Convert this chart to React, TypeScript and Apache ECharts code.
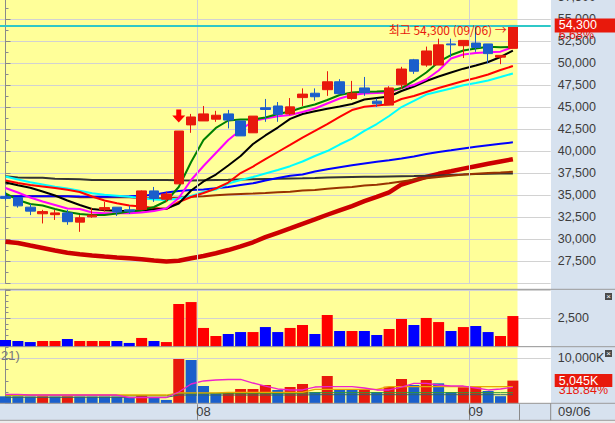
import { useEffect, useRef } from 'react';
import * as echarts from 'echarts';

// ---------- data ----------
const dates = ['07/10','07/11','07/12','07/13','07/14','07/17','07/18','07/19','07/20','07/21','07/24','07/25','07/26','07/27','07/28','07/31',
  '08/01','08/02','08/03','08/04','08/07','08/08','08/09','08/10','08/11','08/14','08/16','08/17','08/18','08/21','08/22','08/23','08/24','08/25','08/28','08/29','08/30','08/31',
  '09/01','09/04','09/05','09/06'];

const open = [34850,34750,33650,32900,32800,33000,31950,32550,33350,33650,33350,33400,35500,34550,36300,43000,43450,43650,44250,43450,42100,44950,45150,44250,46100,46600,47000,47900,46000,47200,45700,45250,47550,50400,49800,49800,52200,52000,52300,52200,50700,51700];
const close = [34650,33800,33200,33150,33000,32000,32450,32750,33600,33100,33200,35500,34650,35150,42300,43900,44250,44100,43550,41750,44000,44750,44200,45050,46500,46200,47900,46550,46600,46650,45400,47200,49350,49100,51400,52100,52100,52600,51800,51100,50900,54300];
const low = [34400,33600,32750,31800,32200,31650,30850,32450,33150,32650,32900,33350,34250,34250,36300,42100,43450,43350,42600,41750,42100,43350,43350,44100,45150,45750,46300,46450,45850,46300,45050,45250,47100,48800,49600,49800,50700,50600,51300,50000,49900,51700];
const high = [35400,34750,34000,33350,33350,33350,32750,33550,34250,33650,33800,35550,35950,35400,42300,44250,45150,44600,44700,43450,44000,45950,45600,46050,47150,47150,49100,48200,48000,48450,46000,47400,49600,50500,51900,52800,52800,52600,54100,52200,50900,54300];

const maGreen = [35230,34470,34010,33840,33440,33100,32870,32760,32760,32930,33160,33330,33670,34350,35940,38780,41280,42650,43500,43610,43610,43840,44240,44520,44980,45320,45830,46400,46680,46770,46800,46850,47190,47990,48950,50150,50940,51450,51680,51890,51820,51850];
const maMagenta = [35830,35320,34750,34300,33900,33500,33440,33050,32950,32950,32950,33050,33220,33500,34690,36740,38330,39810,41280,42420,43440,43730,43980,44130,44470,44860,45430,46000,46400,46570,46630,46680,47190,47530,48160,49180,50550,51000,51170,51250,51320,51850];
const maBlack = [36450,36140,35850,35430,34980,34410,33900,33440,33300,33240,33220,33270,33390,33500,34070,35550,36570,37360,38390,39470,40830,41800,42700,43690,44240,44550,44830,45100,45380,45890,46060,46230,46850,47360,47990,48500,48950,49390,49750,50150,50720,51450];
const maRed = [36680,36400,36170,36000,35830,35640,35380,34860,34410,34090,33840,33730,33560,33440,34240,34810,35260,35770,36450,37530,38270,39120,39920,40720,41550,42310,43100,43900,44690,45070,45200,45340,45940,46280,46740,47190,47590,47990,48330,48730,49240,49690];
const maCyan = [37140,36790,36490,36230,35970,35770,35510,35240,35060,34950,34840,34690,34520,34470,34640,34920,35370,35660,36340,36740,37080,37480,37880,38310,38840,39470,40030,40770,41450,42310,43100,44010,45030,45720,46450,46800,47140,47500,47760,48050,48440,48840];
const maBlue = [34890,34890,34890,34890,34900,34890,34860,34840,34840,34850,34890,34950,35060,35320,35490,35600,35660,35810,35940,36170,36360,36680,36970,37220,37360,37700,37970,38190,38410,38610,38810,38980,39170,39410,39690,39920,40110,40310,40510,40680,40850,41020];
const maCharcoal = [37160,37020,37000,37000,36870,36850,36820,36740,36740,36740,36740,36740,36740,36740,36700,36680,36720,36740,36760,36800,36830,36850,36870,36900,36930,36970,37020,37060,37080,37100,37120,37150,37170,37190,37220,37250,37310,37360,37420,37440,37470,37490];
const maBrown = [34890,34890,34890,34890,34890,34890,34770,34770,34770,34770,34770,34660,34670,34690,34750,34830,34900,35000,35090,35150,35200,35260,35340,35410,35550,35600,35740,35850,35940,36110,36200,36360,36570,36760,36940,37080,37220,37360,37450,37530,37590,37670];
const maLong = [29730,29580,29290,29010,28730,28480,28290,28160,28040,27930,27840,27740,27590,27480,27570,27840,28100,28410,28780,29190,29660,30240,30740,31230,31760,32260,32790,33290,33780,34330,34820,35320,36230,36660,37090,37440,37730,38030,38310,38580,38850,39100];

const volume = [590,500,410,500,500,680,500,500,500,500,330,770,500,410,3760,3930,1650,940,1120,1290,1290,1730,1290,1650,1910,1120,2790,1380,1380,1380,1030,1560,2440,1910,2530,2170,1380,1730,1820,1290,940,2700];

const volumeK = [1550,1550,1500,1550,1500,1550,1500,1500,1500,1500,1400,1850,1300,750,9840,9620,3840,2220,2440,3180,3180,4070,2960,3620,4290,2510,6070,2960,2960,3180,2510,3690,5400,4070,5180,4440,2510,3560,3560,2730,1582,5045];
const volumeKUp = [0,0,0,1,0,1,0,0,0,0,0,1,0,0,1,0,0,0,1,1,1,1,0,1,1,0,1,0,0,1,0,1,1,0,1,0,0,1,1,0,0,1];
const vmaMagenta = [2000,2000,1840,1840,1840,1840,1840,1840,1840,1840,1290,1290,1290,1290,2510,4290,4960,5180,5290,5330,4510,3840,3180,2960,2960,3620,3690,3690,3690,3400,2960,2960,3620,4440,4440,4070,3840,3840,3400,2960,3180,3560];
const vmaGold = [1840,1840,1840,1840,1840,1840,1840,1840,1840,1840,1840,1840,1840,1840,2330,2330,2330,2330,2440,2440,2440,2440,2440,2440,2440,3110,3110,3110,3110,3110,3110,3690,3690,3690,3690,3690,3690,3690,3690,3690,3690,3690];
const vmaGreen = [1690,1690,1690,1690,1690,1690,1690,1690,1690,1690,1690,1690,1690,1690,2220,2220,2220,2220,2220,2220,2220,2220,2220,2220,2220,2360,2360,2360,2360,2360,2360,2360,2360,2360,2360,2360,2360,2360,2360,2360,2360,2360];
const vmaDark = [1330,1330,1330,1330,1330,1330,1330,1330,1330,1330,1330,1330,1330,1330,1840,1840,1840,1840,1840,1840,1840,1840,1840,1840,1840,1910,1910,1910,1910,1910,1910,1910,1910,1910,1910,1910,1910,1910,1910,1910,1910,1910];

const signal = { index: 14, price: 44000 };
const lastInfo = { price: 54300, change: '6.68%', date: '09/06', volK: 5045, volRatio: '318.84%' };

// ---------- style ----------
const RED = '#E8190C';
const BLUE = '#1B5ECB';
const YELLOW = '#FFFF99';
const PANEL = '#D7E2EF';
const GRID = '#D2D2D2';
const FRAME = '#9A9A9A';
const AXIS_TEXT = '#3C3C3C';
const NARROW = "'Liberation Sans Narrow', 'Liberation Sans', Arial, sans-serif";
const AXIS_FS = 12.5;

const STEP = 12.375;   // px per trading day
const FIRST = 5.5;     // centre of first candle
const PLOT_W = 550.7;  // right axis position
const xMin = -FIRST / STEP;
const xMax = (PLOT_W - FIRST) / STEP;

const fmt = (v: number) => v.toLocaleString('en-US');

export default function App() {
  const ref = useRef<HTMLDivElement>(null);
  useEffect(() => {
    if (!ref.current) return;
    const chart = echarts.init(ref.current, null, { renderer: 'svg' });
    const monthStarts = dates.map((d, i) => (i > 0 && d.slice(0, 2) !== dates[i - 1].slice(0, 2) ? i : -1)).filter((i) => i > 0);
    const monthLines = monthStarts.map((i) => ({ xAxis: i - 0.5, lineStyle: { color: GRID, width: 1, type: 'solid' }, label: { show: false } }));
    const idx = (arr: number[]) => arr.map((v, i) => [i, v]);
    const line = (arr: number[], color: string, width: number, xi = 0) => ({
      type: 'line', xAxisIndex: xi, yAxisIndex: xi, data: idx(arr), symbol: 'none', silent: true,
      lineStyle: { color, width }, z: 2,
    });
    const valueX = (gi: number) => ({ type: 'value', gridIndex: gi, min: xMin, max: xMax, show: false });
    const yBase = {
      position: 'right',
      z: 0,
      axisLine: { show: true, lineStyle: { color: '#8A8A8A' } },
      axisTick: { show: true, length: 5, lineStyle: { color: '#8A8A8A' } },
      splitLine: { show: true, lineStyle: { color: GRID, width: 1 } },
      axisLabel: { color: AXIS_TEXT, fontSize: AXIS_FS, fontFamily: NARROW, margin: 7 },
    };
    const gridBase = { outerBoundsMode: 'none', containLabel: false };
    const sideLabel = { show: true, position: 'end', distance: 4, fontSize: AXIS_FS, fontFamily: NARROW };

    chart.setOption({
      animation: false,
      graphic: {
        elements: [
          { type: 'rect', z: -10, silent: true, shape: { x: 0, y: 0, width: 517.5, height: 403.3 }, style: { fill: YELLOW } },
          { type: 'rect', z: -10, silent: true, shape: { x: 551, y: 0, width: 64, height: 403.3 }, style: { fill: PANEL } },
          { type: 'rect', z: -10, silent: true, shape: { x: 0, y: 403.3, width: 615, height: 17 }, style: { fill: PANEL } },
          { type: 'rect', z: -10, silent: true, shape: { x: 0, y: 420.3, width: 615, height: 3 }, style: { fill: '#EDEDED' } },
          { type: 'line', z: 10, silent: true, shape: { x1: 0, y1: 289.3, x2: 615, y2: 289.3 }, style: { stroke: FRAME, lineWidth: 1 } },
          { type: 'line', z: 10, silent: true, shape: { x1: 0, y1: 346.7, x2: 615, y2: 346.7 }, style: { stroke: FRAME, lineWidth: 1 } },
          { type: 'line', z: 10, silent: true, shape: { x1: 0, y1: 403.3, x2: 615, y2: 403.3 }, style: { stroke: FRAME, lineWidth: 1 } },
          { type: 'line', z: 10, silent: true, shape: { x1: 0, y1: 420.3, x2: 615, y2: 420.3 }, style: { stroke: FRAME, lineWidth: 1 } },
          { type: 'line', z: 10, silent: true, shape: { x1: 550.7, y1: 403.3, x2: 550.7, y2: 420.3 }, style: { stroke: '#8A8A8A', lineWidth: 1 } },
          { type: 'rect', z: 10, silent: true, shape: { x: 605, y: 293, width: 7, height: 7 }, style: { fill: '#4A4A4A' } },
          { type: 'text', z: 11, silent: true, style: { x: 608.5, y: 296.5, text: '×', fill: '#fff', fontSize: 8, align: 'center', verticalAlign: 'middle' } },
          { type: 'rect', z: 10, silent: true, shape: { x: 605, y: 350, width: 7, height: 7 }, style: { fill: '#4A4A4A' } },
          { type: 'text', z: 11, silent: true, style: { x: 608.5, y: 353.5, text: '×', fill: '#fff', fontSize: 8, align: 'center', verticalAlign: 'middle' } },
          { type: 'text', z: 10, silent: true, style: { x: 1, y: 355, text: '21)', fill: '#777', fontSize: 13, fontFamily: NARROW, verticalAlign: 'middle' } },
          { type: 'text', z: 10, silent: true, style: { x: 558, y: 411.5, text: lastInfo.date, fill: AXIS_TEXT, fontSize: AXIS_FS + 0.5, fontFamily: NARROW, verticalAlign: 'middle' } },
        ],
      },
      grid: [
        { ...gridBase, left: 0, top: -2.7, width: PLOT_W, height: 286 },
        { ...gridBase, left: 0, top: 289.3, width: PLOT_W, height: 57.4 },
        { ...gridBase, left: 0, top: 346.7, width: PLOT_W, height: 56.6 },
        { ...gridBase, left: FIRST - STEP / 2, top: 403.3, width: STEP * dates.length, height: 1 },
      ],
      xAxis: [
        valueX(0), valueX(1), valueX(2),
        {
          type: 'category', gridIndex: 3, data: dates, boundaryGap: true, position: 'bottom',
          axisLine: { show: false },
          axisTick: { show: true, length: 16, interval: (i: number) => monthStarts.includes(i), lineStyle: { color: '#8A8A8A' } },
          axisLabel: { interval: (i: number) => monthStarts.includes(i), formatter: (v: string) => v.slice(0, 2), color: AXIS_TEXT, fontSize: AXIS_FS + 0.5, fontFamily: NARROW, margin: 1 },
          splitLine: { show: false },
        },
      ],
      yAxis: [
        { ...yBase, type: 'value', gridIndex: 0, min: 25000, max: 57500, interval: 2500,
          minorTick: { show: true, splitNumber: 2, length: 3, lineStyle: { color: '#8A8A8A' } },
          axisLabel: { ...yBase.axisLabel, formatter: (v: number) => fmt(v), showMinLabel: false } },
        { ...yBase, type: 'value', gridIndex: 1, min: 0, max: 5053, interval: 2500,
          minorTick: { show: true, splitNumber: 5, length: 3, lineStyle: { color: '#8A8A8A' } },
          axisLabel: { ...yBase.axisLabel, formatter: (v: number) => (v === 2500 ? fmt(v) : '') } },
        { ...yBase, type: 'value', gridIndex: 2, min: 0, max: 12578, interval: 10000,
          minorTick: { show: true, splitNumber: 4, length: 3, lineStyle: { color: '#8A8A8A' } },
          axisLabel: { ...yBase.axisLabel, formatter: (v: number) => (v === 10000 ? fmt(v) + 'K' : '') } },
        { type: 'value', gridIndex: 3, show: false },
      ],
      series: [
        line(maLong, '#CC0000', 4.5),
        line(maCharcoal, '#333333', 2),
        line(maBrown, '#993300', 2),
        line(maBlue, '#0000FF', 2),
        line(maCyan, '#00FFFF', 2),
        line(maRed, '#FF0000', 2),
        line(maBlack, '#000000', 2),
        line(maMagenta, '#FF00FF', 2),
        line(maGreen, '#008000', 2),
        {
          type: 'candlestick', xAxisIndex: 0, yAxisIndex: 0, z: 5, barWidth: 10,
          data: dates.map((_, i) => [i, open[i], close[i], low[i], high[i]]),
          itemStyle: { color: RED, color0: BLUE, borderColor: RED, borderColor0: BLUE, borderWidth: 1 },
          markLine: {
            silent: true, symbol: ['none', 'none'], z: 20,
            data: [
              ...monthLines,
              { yAxis: lastInfo.price, lineStyle: { color: '#2FC8C8', width: 2, type: 'solid' },
                label: { ...sideLabel, formatter: fmt(lastInfo.price), color: '#fff', backgroundColor: RED, lineHeight: 13, padding: [1, 22, 0, 4] } },
              { yAxis: lastInfo.price, lineStyle: { color: 'transparent', width: 0 },
                label: { ...sideLabel, formatter: '\n' + lastInfo.change, color: RED, lineHeight: 19, padding: [0, 0, 0, 4] } },
            ],
          },
          markPoint: {
            silent: true, z: 20,
            data: [
              { coord: [signal.index, signal.price], symbol: 'path://M4,0 L9,0 L9,6 L13,6 L6.5,13 L0,6 L4,6 Z', symbolSize: [13, 13],
                itemStyle: { color: '#FF0000' }, label: { show: false } },
              { coord: [dates.length - 1, lastInfo.price], symbol: 'circle', symbolSize: 0,
                label: { show: true, position: 'left', distance: 6, offset: [0, 4], formatter: `최고 ${fmt(lastInfo.price)} (${lastInfo.date}) →`,
                  color: RED, fontSize: 12, fontFamily: "'Noto Sans CJK KR', sans-serif" } },
            ],
          },
        },
        {
          type: 'bar', xAxisIndex: 1, yAxisIndex: 1, barWidth: 11, z: 3,
          data: volume.map((v, i) => ({ value: [i, v], itemStyle: { color: close[i] >= open[i] ? '#FF0000' : '#0000FF' } })),
          markLine: { silent: true, symbol: ['none', 'none'], data: monthLines },
        },
        {
          type: 'bar', xAxisIndex: 2, yAxisIndex: 2, barWidth: 11, z: 2,
          data: volumeK.map((v, i) => ({ value: [i, v], itemStyle: { color: volumeKUp[i] ? RED : '#1A5FCC' } })),
          markLine: {
            silent: true, symbol: ['none', 'none'], z: 20,
            data: [
              ...monthLines,
              { yAxis: lastInfo.volK, lineStyle: { color: 'transparent', width: 0 },
                label: { ...sideLabel, formatter: fmt(lastInfo.volK) + 'K', color: '#fff', backgroundColor: RED, lineHeight: 13, padding: [0, 14, 0, 4] } },
              { yAxis: lastInfo.volK, lineStyle: { color: 'transparent', width: 0 },
                label: { ...sideLabel, formatter: '\n' + lastInfo.volRatio, color: RED, lineHeight: 19, padding: [0, 0, 0, 4] } },
            ],
          },
        },
        line(vmaDark, '#336666', 1, 2),
        line(vmaGreen, '#2E9B2E', 1, 2),
        line(vmaGold, '#E8A800', 1.3, 2),
        line(vmaMagenta, '#EE22CC', 1.3, 2),
      ],
    });
    return () => chart.dispose();
  }, []);
  return <div ref={ref} style={{ position: 'absolute', left: 0, top: 0, width: 615, height: 423 }} />;
}
